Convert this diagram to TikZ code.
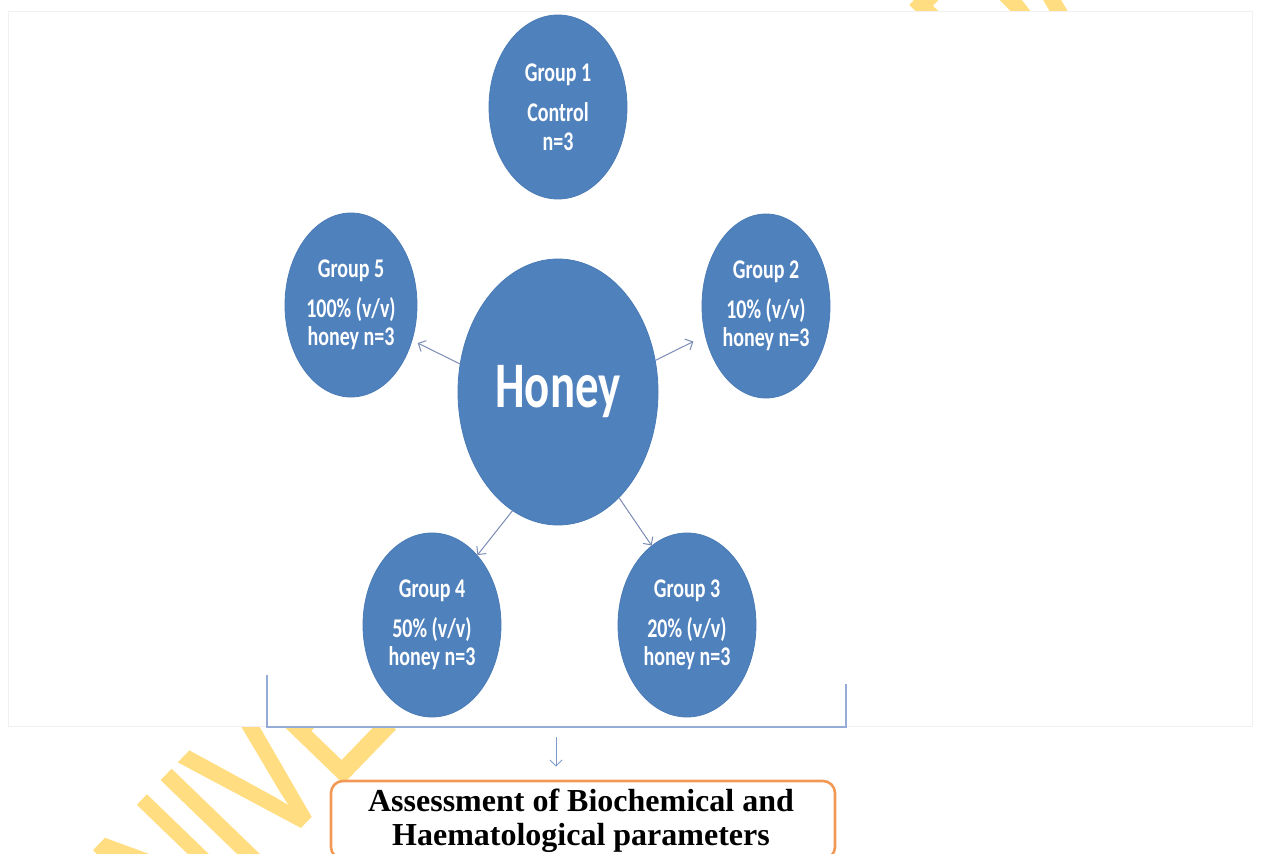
\documentclass[tikz,border=0pt]{standalone}
\usepackage{fontspec}
\setmainfont{Carlito}
\newfontfamily\grpfont[FakeStretch=0.74]{Carlito}
\newfontfamily\hubfont[FakeStretch=0.72]{Carlito}
\newfontfamily\boxfont{Liberation Serif}
\newfontfamily\markfont[FakeBold=1.8,FakeStretch=0.7]{Liberation Sans}
\usetikzlibrary{shapes.geometric,arrows.meta}

\definecolor{grpblue}{HTML}{4F81BD}
\definecolor{grpedge}{HTML}{4A7BB6}
\definecolor{linkcol}{HTML}{7B8DB5}
\definecolor{bracketcol}{HTML}{95ADD6}
\definecolor{dropcol}{HTML}{7E9CC8}
\definecolor{boxorange}{HTML}{F29A55}
\definecolor{markyellow}{HTML}{FFDD80}
\definecolor{framegray}{HTML}{F0F0F0}

\tikzset{
  grp/.style={ellipse, fill=grpblue, draw=grpedge, line width=0.8pt,
    inner sep=0pt, text=white, align=center,
    font=\grpfont\bfseries\fontsize{27}{28.5}\selectfont,
    minimum width=138pt, minimum height=184pt},
  hub/.style={grp, font=\hubfont\bfseries\fontsize{65}{70}\selectfont,
    minimum width=200pt, minimum height=266pt},
  link/.style={draw=linkcol, line width=1pt,
    -{Straight Barb[length=6pt,width=12pt,line width=1pt]}},
  bracketline/.style={draw=bracketcol, line width=1.6pt},
  droplink/.style={draw=dropcol, line width=1pt,
    -{Straight Barb[length=6pt,width=12pt,line width=1pt]}},
  assessbox/.style={draw=boxorange, line width=2.6pt, fill=white,
    rounded corners=12pt, minimum width=504pt, minimum height=78pt},
  assesstext/.style={align=center, inner sep=0pt,
    font=\boxfont\bfseries\fontsize{32}{34}\selectfont},
  watermark/.style={text=markyellow, inner sep=0pt,
    font=\markfont\fontsize{190}{190}\selectfont}
}

\begin{document}
\begin{tikzpicture}[x=1pt,y=-1pt]
\useasboundingbox (0,0) rectangle (1262,854);
\fill[white] (0,0) rectangle (1262,854);

% diagonal library watermark, underneath everything
\node[watermark, rotate=46, anchor=base west] (wm) at (115,1018) {UNIVERSITY OF IBADAN LIBRARY};

% white figure panel with its faint frame
\fill[white] (8,11) rectangle (1252,726);
\draw[framegray, line width=1pt] (8,11) rectangle (1252,726);

% treatment groups around the honey hub
\node[hub] (honey) at (558,392) {Honey};
\node[grp] (g1) at (558,107) {Group 1\\[11.5pt]Control\\n=3};
\node[grp, minimum width=128pt] (g2) at (766,306) {Group 2\\[11.5pt]10\% (v/v)\\honey n=3};
\node[grp] (g3) at (687,625) {Group 3\\[11.5pt]20\% (v/v)\\honey n=3};
\node[grp] (g4) at (432,625) {Group 4\\[11.5pt]50\% (v/v)\\honey n=3};
\node[grp, minimum width=132pt] (g5) at (351,305) {Group 5\\[11.5pt]100\% (v/v)\\honey n=3};

\draw[link, shorten >=6pt] (honey.164) -- (g5.-30);
\draw[link, shorten >=13pt] (honey.18) -- (g2.206);
\draw[link] (honey.249) -- (g4.57);
\draw[link] (honey.-60) -- (g3.114);

% bracket gathering all groups
\coordinate (bl) at (267,675);
\coordinate (blc) at (267,727);
\coordinate (brc) at (846,727);
\coordinate (br) at (846,684);
\draw[bracketline] (bl) -- (blc) -- (brc) -- (br);

% outcome box
\node[assessbox] (assess) at (583,820) {};
\node[assesstext] (assesslabel) at (581,821) {Assessment of Biochemical and\\Haematological parameters};

\coordinate (drop) at (556,737);
\draw[droplink, shorten >=13pt] (drop) -- (drop |- assess.north);
\end{tikzpicture}
\end{document}
